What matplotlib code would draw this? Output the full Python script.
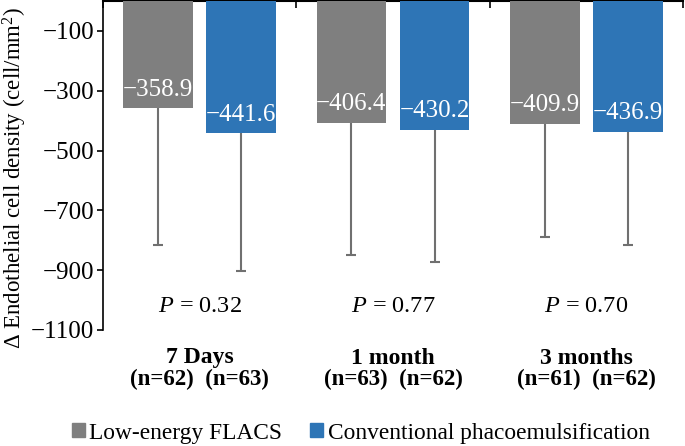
import numpy as np
import matplotlib.pyplot as plt
from matplotlib.patches import Patch
from matplotlib.transforms import blended_transform_factory

plt.rcParams['font.family'] = ['Liberation Serif', 'DejaVu Serif']
plt.rcParams['mathtext.fontset'] = 'custom'
plt.rcParams['mathtext.rm'] = 'Liberation Serif'
plt.rcParams['mathtext.it'] = 'Liberation Serif:italic'

# data
groups = ['7 Days', '1 month', '3 months']
n_labels = ['(n=62)  (n=63)', '(n=63)  (n=62)', '(n=61)  (n=62)']
flacs = [-358.9, -406.4, -409.9]
phaco = [-441.6, -430.2, -436.9]
flacs_sd = [457, 444, 378]
phaco_sd = [461, 444, 379]
p_values = ['0.32', '0.77', '0.70']

gray = '#7f7f7f'
blue = '#2e75b6'
err_color = '#707070'

fig = plt.figure(figsize=(6.85, 4.46), dpi=100)
ax = fig.add_axes([103 / 685, 1 - 330 / 446, 580 / 685, 329 / 446])

x = np.arange(len(groups))
w = 0.36
off = 0.215

ax.bar(x - off, flacs, width=w, color=gray, zorder=3)
ax.bar(x + off, phaco, width=w, color=blue, zorder=3)

for xs, vals, sd in [(x - off, flacs, flacs_sd), (x + off, phaco, phaco_sd)]:
    eb = ax.errorbar(xs, vals, yerr=[sd, np.zeros(len(sd))], fmt='none',
                     ecolor=err_color, elinewidth=1.5, capsize=3.5,
                     capthick=1.5, zorder=2)
    eb[1][1].set_visible(False)
    for xi, v in zip(xs, vals):
        ax.annotate(f'\u2212{abs(v):.1f}', (xi, v), xytext=(0, 9),
                    textcoords='offset points', ha='center', va='baseline',
                    color='white', fontsize=18, zorder=4)

for xi, p in zip(x, p_values):
    ax.text(xi, -1023, rf'$P$ = {p}', ha='center', va='center', fontsize=17.5)

ax.set_xlim(-0.5, 2.5)
ax.set_ylim(-1100, 0)
ax.set_yticks(np.arange(-100, -1101, -200))
ax.set_yticklabels([f'\u2212{abs(t)}' for t in np.arange(-100, -1101, -200)])
ax.tick_params(axis='y', direction='out', length=4.5, width=1.2, labelsize=18, pad=2)

ax.xaxis.set_ticks_position('top')
ax.set_xticks([-0.5, 0.5, 1.5, 2.5])
ax.set_xticklabels([])
ax.tick_params(axis='x', direction='in', length=5, width=1.2)

ax.spines['bottom'].set_visible(False)
ax.spines['right'].set_visible(False)
ax.spines['top'].set_linewidth(1.5)
ax.spines['left'].set_linewidth(1.2)

trans = blended_transform_factory(ax.transData, fig.transFigure)
for xi, g, n in zip(x, groups, n_labels):
    ax.text(xi, 1 - 358 / 446, g, transform=trans, ha='center', va='center',
            fontsize=17, fontweight='bold', clip_on=False)
    ax.text(xi, 1 - 379 / 446, n, transform=trans, ha='center', va='center',
            fontsize=16.5, fontweight='bold', clip_on=False)

fig.text(15 / 685, 1 - 178 / 446, r'Δ Endothelial cell density (cell/mm$^2$)',
         rotation=90, ha='center', va='center', fontsize=16.5)

handles = [Patch(color=gray, label='Low-energy FLACS'),
           Patch(color=blue, label='Conventional phacoemulsification')]
fig.legend(handles=handles, loc='center', bbox_to_anchor=(361 / 685, 1 - 433 / 446),
           ncol=2, frameon=False, fontsize=16.8, handlelength=0.55, handleheight=0.55,
           handletextpad=0.2, columnspacing=1.2, borderpad=0)

fig.savefig('out.png', dpi=100)
